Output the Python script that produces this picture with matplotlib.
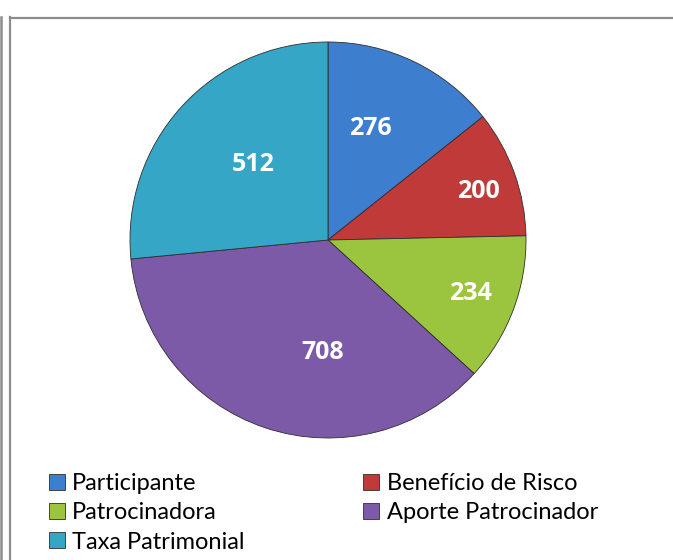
import matplotlib
matplotlib.use("Agg")
import matplotlib.pyplot as plt
from matplotlib.lines import Line2D
import numpy as np

labels = ["Participante", "Benefício de Risco", "Patrocinadora",
          "Aporte Patrocinador", "Taxa Patrimonial"]
values = [276, 200, 234, 708, 512]
colors = ["#3d7ecf", "#c03a3a", "#9cc53f", "#7d5aa8", "#35a6c6"]

# label placement (fraction of radius, angle nudge in degrees) - mimics Excel's best fit
lab_r = [0.60, 0.80, 0.77, 0.57, 0.54]
lab_shift = [5, -2, 0, 16, -3]

W, H = 673, 560
fig = plt.figure(figsize=(W / 100, H / 100), dpi=100)

def fx(px): return px / W
def fy(py): return 1 - py / H

# frame lines (chart is a cropped screenshot)
gray = "#8c8c8c"
fig.add_artist(Line2D([fx(1.2), fx(1.2)], [fy(17), fy(H)], color=gray, lw=1.8))
fig.add_artist(Line2D([fx(9.5), fx(9.5)], [fy(17), fy(H)], color=gray, lw=1.6))
fig.add_artist(Line2D([fx(9.5), fx(W)], [fy(17.5), fy(17.5)], color=gray, lw=1.6))

# pie axes placed by pixel centre / radius
cx, cy, r = 328, 240, 198
ax = fig.add_axes([fx(cx - r), fy(cy + r), 2 * r / W, 2 * r / H])
wedges, _ = ax.pie(values, colors=colors, startangle=90, counterclock=False,
                   wedgeprops=dict(edgecolor="#2e2e2e", linewidth=0.6))
ax.set_xlim(-1, 1); ax.set_ylim(-1, 1)

for w, v, d, s in zip(wedges, values, lab_r, lab_shift):
    a = np.deg2rad((w.theta1 + w.theta2) / 2 + s)
    ax.text(d * np.cos(a), d * np.sin(a), str(v), ha="center", va="center",
            color="white", fontsize=18, fontweight="bold",
            family=["Open Sans", "DejaVu Sans"])

# legend laid out row-wise like the original (ncol fills columns first)
order = [0, 2, 4, 1, 3]
fig.legend([wedges[i] for i in order], [labels[i] for i in order], ncol=2,
           loc="upper left", bbox_to_anchor=(fx(49), fy(473)), frameon=False,
           prop=dict(family=["Lato", "DejaVu Sans"], size=17),
           handlelength=0.68, handleheight=0.68, handletextpad=0.3,
           columnspacing=5.03, labelspacing=0.35, borderpad=0, borderaxespad=0)

fig.savefig("out.png", dpi=100, facecolor="white")
